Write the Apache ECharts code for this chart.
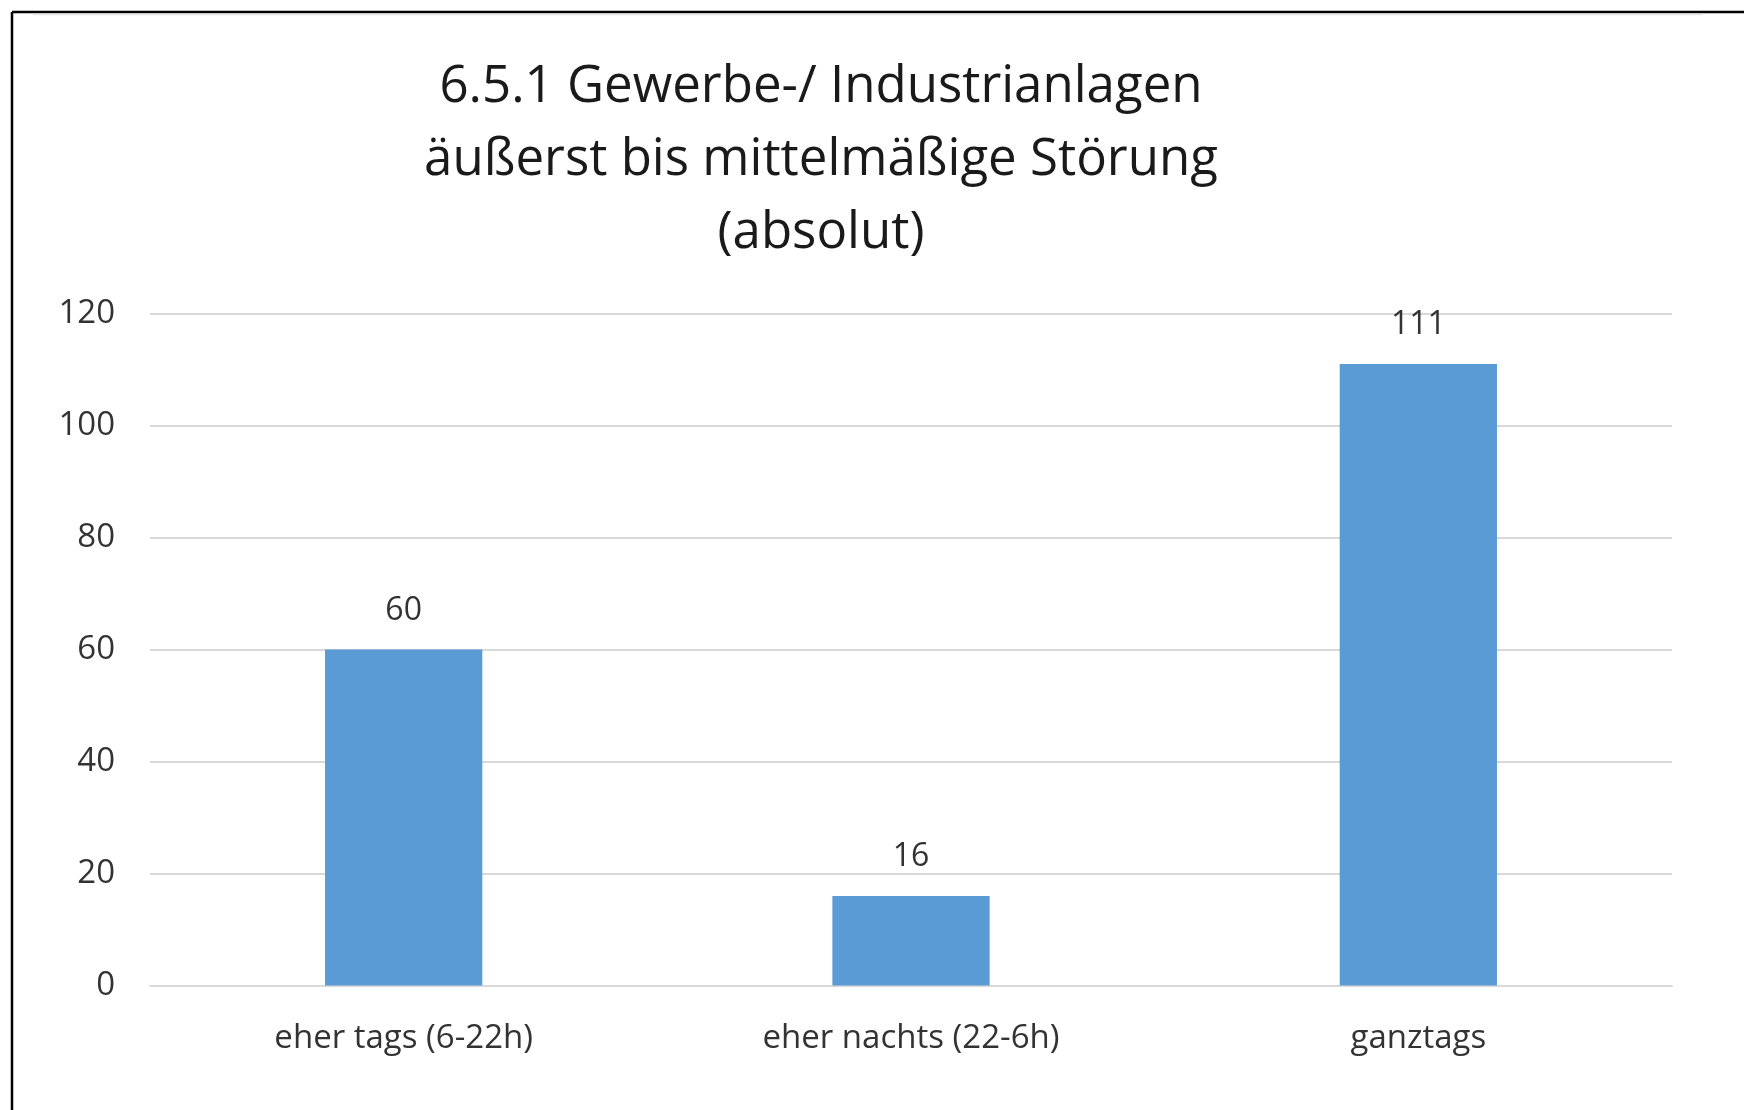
<!DOCTYPE html>
<html>
<head>
<meta charset="utf-8">
<script src="https://cdn.jsdelivr.net/npm/echarts@6/dist/echarts.min.js"></script>
<style>
html,body{margin:0;padding:0;background:#fff;}
#chart{width:1744px;height:1110px;}
</style>
</head>
<body>
<div id="chart"></div>
<script>
const titleLines = ["6.5.1 Gewerbe-/ Industrianlagen", "äußerst bis mittelmäßige Störung", "(absolut)"];
const categories = ["eher tags (6-22h)", "eher nachts (22-6h)", "ganztags"];
const values = [60, 16, 111];
const yTicks = [0, 20, 40, 60, 80, 100, 120];

const FONT = "Open Sans";
const chart = echarts.init(document.getElementById('chart'));
chart.setOption({
  backgroundColor: '#ffffff',
  animation: false,
  title: {
    text: titleLines.join('\n'),
    left: 816,
    top: 46,
    textAlign: 'center',
    textStyle: {
      fontFamily: FONT,
      fontSize: 51,
      fontWeight: 'normal',
      color: '#1a1a1a',
      lineHeight: 73
    }
  },
  graphic: [
    {
      type: 'line',
      shape: { x1: 12, y1: 12, x2: 1744, y2: 12 },
      style: { stroke: '#000', lineWidth: 2.5 }
    },
    {
      type: 'line',
      shape: { x1: 12, y1: 12, x2: 12, y2: 1110 },
      style: { stroke: '#000', lineWidth: 2.5 }
    },
    {
      type: 'line',
      shape: { x1: 33, y1: 14.5, x2: 1702, y2: 14.5 },
      style: { stroke: '#e6e6e6', lineWidth: 1.5 }
    }
  ],
  grid: {
    left: 150,
    right: 72,
    top: 313.6,
    bottom: 124.5,
    containLabel: false
  },
  xAxis: {
    type: 'category',
    data: categories,
    axisTick: { show: false },
    axisLine: { show: true, lineStyle: { color: '#d9d9d9', width: 2 } },
    axisLabel: {
      fontFamily: FONT,
      fontSize: 33,
      lineHeight: 33,
      color: '#333333',
      margin: 37
    }
  },
  yAxis: {
    type: 'value',
    min: yTicks[0],
    max: yTicks[yTicks.length - 1],
    interval: yTicks[1] - yTicks[0],
    axisLine: { show: false },
    axisTick: { show: false },
    splitLine: { lineStyle: { color: '#d9d9d9', width: 2 } },
    axisLabel: {
      fontFamily: FONT,
      fontSize: 33,
      color: '#333333',
      margin: 35
    }
  },
  series: [{
    type: 'bar',
    data: values,
    barWidth: '31%',
    itemStyle: { color: '#5b9bd5' },
    label: {
      show: true,
      position: 'top',
      distance: 23,
      fontFamily: FONT,
      fontSize: 32,
      lineHeight: 32,
      color: '#333333'
    }
  }]
});
</script>
</body>
</html>
